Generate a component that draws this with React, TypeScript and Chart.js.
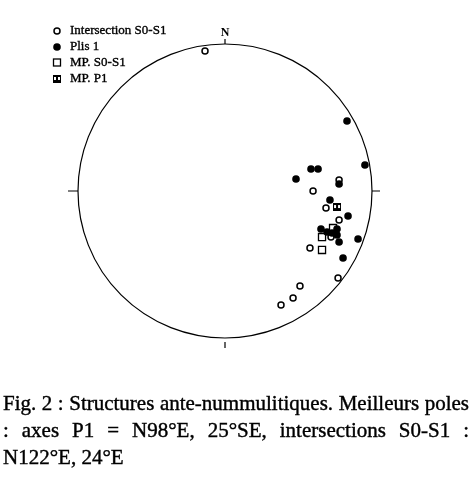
import React, { useEffect, useRef } from "react";
import { Chart, registerables } from "chart.js";

Chart.register(...registerables);

// Equal-area projection coordinates (unit circle, x = east, y = north)
const intersectionS0S1 = [
  { x: -0.136, y: 0.952 },
  { x: 0.776, y: 0.075 },
  { x: 0.599, y: 0.0 },
  { x: 0.687, y: -0.116 },
  { x: 0.776, y: -0.197 },
  { x: 0.721, y: -0.313 },
  { x: 0.578, y: -0.388 },
  { x: 0.769, y: -0.592 },
  { x: 0.51, y: -0.646 },
  { x: 0.463, y: -0.728 },
  { x: 0.381, y: -0.776 },
];

const plis1 = [
  { x: 0.83, y: 0.476 },
  { x: 0.952, y: 0.177 },
  { x: 0.585, y: 0.15 },
  { x: 0.633, y: 0.15 },
  { x: 0.483, y: 0.082 },
  { x: 0.776, y: 0.048 },
  { x: 0.714, y: -0.061 },
  { x: 0.837, y: -0.17 },
  { x: 0.653, y: -0.259 },
  { x: 0.694, y: -0.279 },
  { x: 0.728, y: -0.286 },
  { x: 0.762, y: -0.259 },
  { x: 0.762, y: -0.299 },
  { x: 0.905, y: -0.327 },
  { x: 0.776, y: -0.347 },
  { x: 0.803, y: -0.456 },
];

const mpS0S1 = [
  { x: 0.735, y: -0.252 },
  { x: 0.66, y: -0.313 },
  { x: 0.66, y: -0.401 },
];

const mpP1 = [{ x: 0.762, y: -0.109 }];

const legendLabels = ["Intersection S0-S1", "Plis 1", "MP. S0-S1", "MP. P1"];
const northLabel = "N";
const captionLines = [
  "Fig. 2 : Structures ante-nummulitiques. Meilleurs poles",
  ": axes P1 = N98°E, 25°SE, intersections S0-S1 :",
  "N122°E, 24°E",
];

const SERIF = '"Liberation Serif", "Times New Roman", serif';

// Black square with two small white holes, used for the "MP. P1" symbol
function makeMpP1Marker(): HTMLCanvasElement {
  const c = document.createElement("canvas");
  c.width = 8;
  c.height = 8;
  const g = c.getContext("2d")!;
  g.fillStyle = "#000";
  g.fillRect(0, 0, 8, 8);
  g.fillStyle = "#fff";
  g.fillRect(1, 2, 2, 3);
  g.fillRect(5, 2, 2, 3);
  return c;
}

type MarkerKind = "open" | "filled" | "square" | "mp";

function drawMarker(ctx: CanvasRenderingContext2D, kind: MarkerKind, x: number, y: number, mpImg: HTMLCanvasElement) {
  ctx.save();
  ctx.strokeStyle = "#000";
  ctx.fillStyle = "#000";
  if (kind === "open") {
    ctx.beginPath();
    ctx.arc(x, y, 3, 0, Math.PI * 2);
    ctx.fillStyle = "#fff";
    ctx.fill();
    ctx.lineWidth = 1.5;
    ctx.stroke();
  } else if (kind === "filled") {
    ctx.beginPath();
    ctx.arc(x, y, 3.8, 0, Math.PI * 2);
    ctx.fill();
  } else if (kind === "square") {
    ctx.fillStyle = "#fff";
    ctx.fillRect(x - 3.5, y - 3.5, 7, 7);
    ctx.lineWidth = 1.3;
    ctx.strokeRect(x - 3.5, y - 3.5, 7, 7);
  } else {
    ctx.drawImage(mpImg, Math.round(x - 4), Math.round(y - 4));
  }
  ctx.restore();
}

export default function App() {
  const canvasRef = useRef<HTMLCanvasElement | null>(null);

  useEffect(() => {
    const canvas = canvasRef.current;
    if (!canvas) return;
    const mpImg = makeMpP1Marker();

    // Primitive circle, cardinal ticks, north label and legend
    const stereonetFrame = {
      id: "stereonetFrame",
      beforeDatasetsDraw(chart: any) {
        const { ctx, scales } = chart;
        const cx = scales.x.getPixelForValue(0);
        const cy = scales.y.getPixelForValue(0);
        const r = scales.x.getPixelForValue(1) - cx;
        ctx.save();
        ctx.strokeStyle = "#000";
        ctx.lineWidth = 1.2;
        ctx.beginPath();
        ctx.arc(cx, cy, r, 0, Math.PI * 2);
        ctx.stroke();
        ctx.lineWidth = 1.2;
        ctx.beginPath();
        ctx.moveTo(cx, cy - r);
        ctx.lineTo(cx, cy - r - 5);
        ctx.moveTo(cx + r, cy);
        ctx.lineTo(cx + r + 8, cy);
        ctx.moveTo(cx - r, cy);
        ctx.lineTo(cx - r - 10, cy);
        ctx.moveTo(cx, cy + r + 4);
        ctx.lineTo(cx, cy + r + 10);
        ctx.stroke();

        ctx.fillStyle = "#000";
        ctx.font = `bold 12px ${SERIF}`;
        ctx.textAlign = "center";
        ctx.textBaseline = "alphabetic";
        ctx.fillText(northLabel, cx, cy - r - 8);

        const kinds: MarkerKind[] = ["open", "filled", "square", "mp"];
        const rows = [31, 47, 62.5, 79];
        ctx.font = `13px ${SERIF}`;
        ctx.textAlign = "left";
        ctx.textBaseline = "middle";
        ctx.lineWidth = 0.35;
        legendLabels.forEach((label, i) => {
          drawMarker(ctx, kinds[i], 57, rows[i], mpImg);
          ctx.fillText(label, 70, rows[i]);
          ctx.strokeText(label, 70, rows[i]);
        });
        ctx.restore();
      },
    };

    const chart = new Chart(canvas, {
      type: "scatter",
      data: {
        datasets: [
          {
            label: legendLabels[1],
            data: plis1,
            pointStyle: "circle",
            pointRadius: 3.8,
            pointBackgroundColor: "#000",
            pointBorderColor: "#000",
            pointBorderWidth: 0,
            order: 1,
          },
          {
            label: legendLabels[3],
            data: mpP1,
            pointStyle: mpImg,
            pointRadius: 4,
            order: 2,
          },
          {
            label: legendLabels[0],
            data: intersectionS0S1,
            pointStyle: "circle",
            pointRadius: 3,
            pointBackgroundColor: "#fff",
            pointBorderColor: "#000",
            pointBorderWidth: 1.5,
            order: 3,
          },
          {
            label: legendLabels[2],
            data: mpS0S1,
            pointStyle: "rect",
            pointRadius: 5,
            pointBackgroundColor: "#fff",
            pointBorderColor: "#000",
            pointBorderWidth: 1.3,
            order: 4,
          },
        ],
      },
      options: {
        responsive: false,
        animation: false,
        layout: { padding: { left: 78, right: 99, top: 44, bottom: 140 } },
        scales: {
          x: { type: "linear", min: -1, max: 1, display: false },
          y: { type: "linear", min: -1, max: 1, display: false },
        },
        plugins: {
          legend: { display: false },
          tooltip: { enabled: false },
        },
      },
      plugins: [stereonetFrame],
    });

    return () => chart.destroy();
  }, []);

  const lineStyle: React.CSSProperties = {
    position: "absolute",
    left: 3,
    width: 466,
    fontFamily: SERIF,
    fontSize: 21,
    lineHeight: "21px",
    color: "#000",
    whiteSpace: "nowrap",
    WebkitTextStroke: "0.4px #000",
  };

  return (
    <div style={{ position: "absolute", left: 0, top: 0, width: 471, height: 478, background: "#fff" }}>
      <canvas ref={canvasRef} width={471} height={478} style={{ position: "absolute", left: 0, top: 0 }} />
      <div style={{ ...lineStyle, top: 393, textAlign: "justify", textAlignLast: "justify" }}>{captionLines[0]}</div>
      <div style={{ ...lineStyle, top: 420, textAlign: "justify", textAlignLast: "justify" }}>{captionLines[1]}</div>
      <div style={{ ...lineStyle, top: 447 }}>{captionLines[2]}</div>
    </div>
  );
}
